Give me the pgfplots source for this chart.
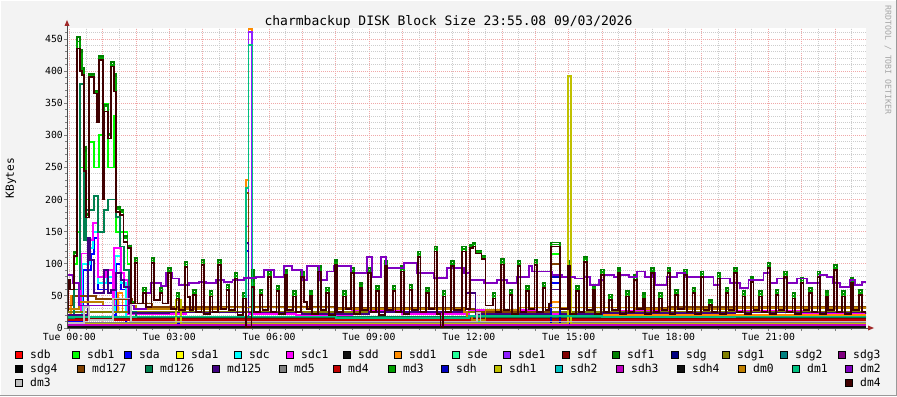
\documentclass[border=0pt]{standalone}
\usepackage{fontspec}
\setmainfont{DejaVu Sans Mono}
\usepackage{pgfplots}
\usepackage{pgfplotstable}
\pgfplotsset{compat=1.18}
\definecolor{cbg}{HTML}{F3F3F3}
\definecolor{cmgrid}{HTML}{F0A8A8}
\definecolor{cgrid}{HTML}{CDCDCD}
\definecolor{carrow}{HTML}{A02828}
\definecolor{csdb}{HTML}{FF0000}
\definecolor{csdbi}{HTML}{00FF00}
\definecolor{csda}{HTML}{0000FF}
\definecolor{csdai}{HTML}{FFFF00}
\definecolor{csdc}{HTML}{00FFFF}
\definecolor{csdci}{HTML}{FF00FF}
\definecolor{csdd}{HTML}{111111}
\definecolor{csddi}{HTML}{FF8C00}
\definecolor{csde}{HTML}{22FF99}
\definecolor{csdei}{HTML}{8F1FFF}
\definecolor{csdf}{HTML}{800000}
\definecolor{csdfi}{HTML}{008000}
\definecolor{csdg}{HTML}{000080}
\definecolor{csdgi}{HTML}{808000}
\definecolor{csdgii}{HTML}{008080}
\definecolor{csdgiii}{HTML}{800080}
\definecolor{csdgiv}{HTML}{000000}
\definecolor{cmdA}{HTML}{804000}
\definecolor{cmdB}{HTML}{008050}
\definecolor{cmdC}{HTML}{400080}
\definecolor{cmdv}{HTML}{808080}
\definecolor{cmdiv}{HTML}{C00000}
\definecolor{cmdiii}{HTML}{00A000}
\definecolor{csdh}{HTML}{0000C0}
\definecolor{csdhi}{HTML}{C0C000}
\definecolor{csdhii}{HTML}{00C0C0}
\definecolor{csdhiii}{HTML}{C000C0}
\definecolor{csdhiv}{HTML}{101010}
\definecolor{cdmo}{HTML}{C08000}
\definecolor{cdmi}{HTML}{00C080}
\definecolor{cdmii}{HTML}{8000C0}
\definecolor{cdmiii}{HTML}{C0C0C0}
\definecolor{cdmiv}{HTML}{400000}

\pgfplotstableread[row sep=\\]{
t dm4 md3 sdf1\\
-0.07 28 28 28\\ -0.04 75 75 75\\ 0.03 60 60 60\\ 0.15 112 116 118\\
0.23 435 446 453\\ 0.32 400 426 433\\ 0.37 394 400 405\\ 0.43 245 272 282\\
0.50 172 175 178\\ 0.60 391 393 396\\ 0.73 365 367 369\\ 0.83 321 324 326\\
0.90 417 420 423\\ 1.00 200 205 210\\ 1.05 337 345 348\\ 1.17 295 300 302\\
1.25 407 410 414\\ 1.33 368 390 396\\ 1.40 181 185 188\\ 1.53 176 180 184\\
1.63 134 140 143\\ 1.75 124 126 128\\ 1.85 38 40 40\\
1.97 101 105 109\\ 2.05 38 38 38\\ 2.22 55 59 63\\ 2.30 33 33 33\\
2.47 101 105 109\\ 2.55 44 44 44\\ 2.72 54 58 62\\ 2.80 38 38 38\\
2.97 85 89 93\\ 3.05 30 30 30\\ 3.22 46 50 54\\ 3.30 28 28 28\\
3.47 95 99 103\\ 3.55 48 48 48\\ 3.63 28 28 28\\ 3.72 51 55 59\\ 3.80 25 25 25\\
3.97 98 102 106\\ 4.05 22 22 22\\ 4.22 49 53 57\\ 4.30 25 25 25\\
4.47 98 102 106\\ 4.55 30 30 30\\ 4.72 59 63 67\\ 4.80 28 28 28\\
4.97 77 81 85\\ 5.05 20 20 20\\ 5.22 46 50 54\\ 5.30 2 2 2\\
5.47 64 70 90\\ 5.55 25 25 25\\ 5.72 51 55 59\\ 5.80 28 28 28\\
5.97 80 84 88\\ 6.05 25 25 25\\ 6.22 57 61 65\\ 6.30 22 22 22\\
6.47 82 86 90\\ 6.55 28 28 28\\ 6.72 49 53 57\\ 6.80 25 25 25\\
6.97 80 84 88\\ 7.05 40 40 40\\ 7.13 30 30 30\\ 7.22 50 54 58\\ 7.30 22 22 22\\
7.47 88 92 96\\ 7.55 28 28 28\\ 7.72 55 59 63\\ 7.80 20 20 20\\
7.97 98 102 106\\ 8.05 25 25 25\\ 8.22 49 53 57\\ 8.30 30 30 30\\
8.47 85 89 93\\ 8.55 22 22 22\\ 8.72 62 66 70\\ 8.80 28 28 28\\
8.97 85 89 93\\ 9.05 25 25 25\\ 9.22 57 61 65\\ 9.30 20 20 20\\
9.47 96 100 104\\ 9.55 28 28 28\\ 9.72 57 61 65\\ 9.80 25 25 25\\
9.97 88 92 96\\ 10.05 22 22 22\\ 10.22 59 63 67\\ 10.30 28 28 28\\
10.47 111 115 119\\ 10.55 25 25 25\\ 10.72 54 58 62\\ 10.80 30 30 30\\
10.97 119 123 127\\ 11.05 22 22 22\\ 11.15 0 0 0\\ 11.22 49 53 57\\ 11.30 25 25 25\\
11.47 96 100 104\\ 11.55 28 28 28\\ 11.80 119 123 127\\ 11.92 30 30 30\\
12.03 124 128 130\\ 12.12 127 130 132\\ 12.20 116 118 120\\ 12.38 108 110 112\\
12.50 35 35 35\\ 12.72 46 50 54\\ 12.80 25 25 25\\
12.97 99 103 107\\ 13.05 28 28 28\\ 13.22 51 55 59\\ 13.30 22 22 22\\
13.47 96 100 104\\ 13.55 25 25 25\\ 13.72 57 61 65\\ 13.80 30 30 30\\
13.97 98 102 106\\ 14.05 25 25 25\\ 14.22 62 66 70\\ 14.30 28 28 28\\
14.40 38 38 38\\ 14.47 127 130 133\\ 14.75 30 30 30\\
14.97 96 100 104\\ 15.05 22 22 22\\ 15.22 57 61 65\\ 15.30 25 25 25\\
15.47 103 107 111\\ 15.55 28 28 28\\ 15.72 59 63 67\\ 15.80 22 22 22\\
15.97 83 87 91\\ 16.05 25 25 25\\ 16.22 44 48 52\\ 16.30 28 28 28\\
16.47 85 89 93\\ 16.55 22 22 22\\ 16.72 49 53 57\\ 16.80 25 25 25\\
16.97 75 79 83\\ 17.05 30 30 30\\ 17.22 46 50 54\\ 17.30 22 22 22\\
17.47 85 89 93\\ 17.55 25 25 25\\ 17.72 46 50 54\\ 17.80 28 28 28\\
17.97 85 89 93\\ 18.05 22 22 22\\ 18.20 51 55 59\\ 18.28 30 30 30\\
18.47 83 87 91\\ 18.55 25 25 25\\ 18.72 54 58 62\\ 18.80 22 22 22\\
18.97 80 84 88\\ 19.05 28 28 28\\ 19.22 36 40 44\\ 19.30 25 25 25\\
19.47 77 81 85\\ 19.55 22 22 22\\ 19.72 54 58 62\\ 19.80 28 28 28\\
19.97 85 89 93\\ 20.05 25 25 25\\ 20.22 49 53 57\\ 20.30 22 22 22\\
20.47 72 76 80\\ 20.55 28 28 28\\ 20.72 49 53 57\\ 20.80 25 25 25\\
20.97 93 97 101\\ 21.05 22 22 22\\ 21.22 51 55 59\\ 21.30 28 28 28\\
21.47 80 84 88\\ 21.55 25 25 25\\ 21.72 46 50 54\\ 21.80 22 22 22\\
21.97 70 74 78\\ 22.05 28 28 28\\ 22.22 54 58 62\\ 22.30 25 25 25\\
22.47 80 84 88\\ 22.55 22 22 22\\ 22.72 49 53 57\\ 22.80 28 28 28\\
22.97 90 94 98\\ 23.05 25 25 25\\ 23.22 49 53 57\\ 23.30 22 22 22\\
23.47 70 74 78\\ 23.55 28 28 28\\ 23.72 51 55 59\\ 23.80 25 25 25\\
23.93 25 25 25\\
}\maintab

\pgfplotstableread[row sep=\\]{
t dm2 sde1\\
-0.07 83 83\\ 0.12 70 70\\ 0.28 35 35\\ 1.95 30 30\\ 2.30 55 55\\ 2.45 70 70\\
2.75 65 65\\ 2.90 85 85\\ 3.10 77 77\\ 3.30 67 67\\ 3.60 70 70\\ 3.90 72 72\\
4.10 70 70\\ 4.40 75 75\\ 4.65 72 72\\ 4.90 75 75\\ 5.25 78 78\\ 5.38 78 461\\
5.48 78 78\\ 5.60 80 80\\ 5.85 90 90\\ 6.15 80 80\\ 6.45 96 96\\ 6.70 90 90\\
7.00 75 75\\ 7.15 96 96\\ 7.50 75 75\\ 7.75 88 88\\ 7.95 96 96\\ 8.45 85 85\\
8.95 111 111\\ 9.10 80 80\\ 9.35 111 111\\ 9.50 93 93\\ 10.05 101 101\\
10.45 85 85\\ 10.95 78 78\\ 11.35 93 93\\ 11.85 85 85\\ 12.05 75 75\\
12.45 70 70\\ 12.85 75 75\\ 13.15 70 70\\ 13.45 80 80\\ 13.80 96 96\\
13.90 88 88\\ 14.50 82 82\\ 14.80 80 80\\ 15.20 77 77\\ 15.45 80 80\\
15.65 67 67\\ 15.90 75 75\\ 16.05 82 82\\ 16.35 80 80\\ 16.55 82 82\\
16.80 80 80\\ 17.05 88 88\\ 17.30 80 80\\ 17.50 85 85\\ 17.60 67 67\\
17.95 80 80\\ 18.25 85 85\\ 18.50 80 80\\ 19.35 67 67\\ 19.55 77 77\\
19.85 70 70\\ 20.15 62 62\\ 20.40 75 75\\ 20.85 85 85\\ 21.05 70 70\\
21.25 77 77\\ 21.55 70 70\\ 21.85 77 77\\ 22.15 70 70\\ 22.55 82 82\\
22.75 80 80\\ 22.95 70 70\\ 23.15 64 64\\ 23.45 75 75\\ 23.60 67 67\\
23.80 72 72\\ 23.93 72 72\\
}\purtab

\begin{document}
\begin{tikzpicture}[x=1bp,y=1bp]
\fill[cbg] (0,0) rectangle (897,396);
\draw[white, line width=1bp] (0.5,0.5) -- (0.5,395.5) -- (896.5,395.5);
\draw[black!40, line width=1bp] (0.5,0.5) -- (896.5,0.5) -- (896.5,395.5);
\begin{axis}[
  at={(67bp,68bp)}, anchor=south west, scale only axis,
  width=799bp, height=300bp,
  xmin=-0.07, xmax=23.93, ymin=0, ymax=467,
  axis line style={draw=none},
  axis background/.style={fill=white},
  tick pos=left, tick align=outside,
  major tick length=3bp, minor tick length=2bp,
  tick style={draw=black!50, line width=0.8bp},
  grid=both,
  major grid style={draw=cmgrid, line width=0.8bp, dash pattern=on 1bp off 1bp},
  minor grid style={draw=cgrid, line width=0.8bp, dash pattern=on 1bp off 1bp},
  xtick={0,1,...,23},
  xticklabels={Tue 00:00,,,Tue 03:00,,,Tue 06:00,,,Tue 09:00,,,Tue 12:00,,,Tue 15:00,,,Tue 18:00,,,Tue 21:00,,},
  minor xtick={0.5,1.5,...,23.5},
  ytick={0,50,...,450},
  minor ytick={10,20,30,40,60,70,80,90,110,120,130,140,160,170,180,190,210,220,230,240,260,270,280,290,310,320,330,340,360,370,380,390,410,420,430,440,460},
  /pgf/number format/assume math mode=true,
  ticklabel style={font=\fontsize{9.8bp}{10bp}\selectfont, inner sep=0pt},
  yticklabel style={anchor=east, xshift=-1bp},
  xticklabel style={anchor=north, yshift=-2bp},
  no markers,
  every axis plot/.append style={line width=1.8bp, const plot},
]
\addplot[draw=csdb] coordinates {(-0.07,12)(3,14)(8,11)(12,15)(17,12)(23.93,12)};
\addplot[draw=csdbi] coordinates {(-0.07,18)(0.15,100)(0.23,150)(0.32,250)(0.43,200)(0.60,290)(0.73,250)(0.90,300)(1.05,349)(1.17,250)(1.33,330)(1.40,150)(1.75,100)(1.85,16)(14.47,115)(14.75,16)(23.93,16)};
\addplot[draw=csda] coordinates {(-0.07,10)(0.40,90)(0.64,115)(0.74,140)(0.85,60)(1.15,70)(1.30,20)(1.40,100)(1.55,60)(1.70,7)(5.30,120)(5.38,7)(14.47,70)(14.75,7)(23.93,7)};
\addplot[draw=csdai] coordinates {(-0.07,3)(23.93,3)};
\addplot[draw=csdc] coordinates {(-0.07,15)(0.38,100)(0.62,125)(0.72,150)(0.85,70)(1.12,80)(1.30,25)(1.38,112)(1.55,70)(1.70,14)(4.0,16)(8.0,13)(12.0,15)(16.0,13)(20.0,15)(23.93,14)};
\addplot[draw=csdci] coordinates {(-0.07,25)(0.35,116)(0.60,137)(0.70,163)(0.85,80)(1.10,90)(1.30,35)(1.35,124)(1.55,85)(1.65,75)(1.75,22)(3.5,25)(5.30,158)(5.38,22)(6.8,20)(8.5,26)(10,22)(12,28)(14,22)(16.5,27)(18,22)(20,26)(22,23)(23.93,24)};
\addplot[draw=csdd] coordinates {(-0.07,1)(23.93,1)};
\addplot[draw=csddi] coordinates {(-0.07,20)(0.05,50)(0.15,25)(1.45,54)(1.60,25)(5.30,230)(5.38,466)(5.48,25)(14.47,40)(14.75,20)(23.93,20)};
\addplot[draw=csde] coordinates {(-0.07,12)(6,13)(12,11)(18,12)(23.93,12)};
\addplot[draw=csdei] table[x=t, y=sde1] {\purtab};
\addplot[draw=csdf] coordinates {(-0.07,14)(23.93,14)};
\addplot[draw=csdfi] table[x=t, y=sdf1] {\maintab};
\addplot[draw=csdg] coordinates {(-0.07,5)(23.93,5)};
\addplot[draw=csdgi] coordinates {(-0.07,25)(23.93,25)};
\addplot[draw=csdgii] coordinates {(-0.07,2)(23.93,2)};
\addplot[draw=csdgiii] coordinates {(-0.07,3)(23.93,3)};
\addplot[draw=csdgiv] coordinates {(-0.07,1)(23.93,1)};
\addplot[draw=cmdA] coordinates {(-0.07,35)(0.10,50)(0.80,45)(1.90,38)(2.5,33)(5.30,210)(5.38,33)(8,32)(11.9,30)(12.2,25)(14.47,100)(14.75,32)(18,33)(23.93,32)};
\addplot[draw=cmdB] coordinates {(-0.07,15)(0.15,60)(0.32,380)(0.43,137)(0.50,184)(0.75,205)(0.85,150)(1.05,184)(1.17,200)(1.40,173)(1.53,127)(1.65,90)(1.80,25)(2.00,17)(23.93,17)};
\addplot[draw=cmdC] coordinates {(-0.07,20)(0.55,140)(0.62,106)(0.75,54)(1.05,90)(1.15,54)(1.25,59)(1.40,85)(1.55,75)(1.65,64)(1.80,23)(3,24)(5.30,132)(5.38,24)(7,22)(9,25)(11.90,54)(12.20,22)(14.47,60)(14.75,22)(16,23)(20,24)(23.93,23)};
\addplot[draw=cmdv] coordinates {(-0.07,8)(23.93,8)};
\addplot[draw=cmdiv] coordinates {(-0.07,13)(23.93,13)};
\addplot[draw=cmdiii] table[x=t, y=md3] {\maintab};
\addplot[draw=csdh] coordinates {(-0.07,6)(14.47,80)(14.75,6)(23.93,6)};
\addplot[draw=csdhi] coordinates {(-0.07,6)(3.20,44)(3.35,6)(14.98,392)(15.07,6)(23.93,6)};
\addplot[draw=csdhii] coordinates {(-0.07,4)(23.93,4)};
\addplot[draw=csdhiii] coordinates {(-0.07,5)(23.93,5)};
\addplot[draw=csdhiv] coordinates {(-0.07,1)(23.93,1)};
\addplot[draw=cdmo] coordinates {(-0.07,30)(0.3,40)(1.0,35)(2.0,30)(4.5,32)(8,30)(11.85,25)(11.95,18)(12.1,13)(12.5,28)(13.5,32)(17,30)(20,31)(23.93,30)};
\addplot[draw=cdmi] coordinates {(-0.07,17)(2,18)(5.30,218)(5.38,440)(5.50,18)(8,16)(12,19)(16,17)(20,18)(23.93,17)};
\addplot[draw=cdmii] table[x=t, y=dm2] {\purtab};
\addplot[draw=cdmiii] coordinates {(-0.07,8)(0.45,33)(0.60,12)(1.30,46)(1.85,10)(12.25,23)(12.35,10)(23.93,10)};
\addplot[draw=cdmiv] table[x=t, y=dm4] {\maintab};
\end{axis}
% axis lines and arrows
\draw[black!70, line width=1bp] (67,68) -- (67,371);
\fill[carrow] (64.5,370) -- (69.5,370) -- (67,376) -- cycle;
\draw[black!70, line width=1bp] (67,68) -- (869,68);
\fill[carrow] (868,65.5) -- (868,70.5) -- (874,68) -- cycle;
% title, unit, watermark
\node[anchor=base, inner sep=0pt, font=\fontsize{13bp}{14bp}\selectfont] at (448.5,371) {charmbackup DISK Block Size 23:55.08 09/03/2026};
\node[rotate=90, inner sep=0pt, font=\fontsize{11.2bp}{12bp}\selectfont] at (11,218) {KBytes};
\node[rotate=-90, inner sep=0pt, text=black!35, font=\fontsize{8.2bp}{9bp}\selectfont] at (888,336) {RRDTOOL / TOBI OETIKER};
% legend
\foreach \x/\y/\c/\n in {
 15/37.8/csdb/sdb, 72/37.8/csdbi/sdb1, 124/37.8/csda/sda, 176/37.8/csdai/sda1,
 234/37.8/csdc/sdc, 286/37.8/csdci/sdc1, 343/37.8/csdd/sdd, 394/37.8/csddi/sdd1,
 452/37.8/csde/sde, 503/37.8/csdei/sde1, 562/37.8/csdf/sdf, 612/37.8/csdfi/sdf1,
 671/37.8/csdg/sdg, 722/37.8/csdgi/sdg1, 780/37.8/csdgii/sdg2, 838/37.8/csdgiii/sdg3,
 15/23.5/csdgiv/sdg4, 77/23.5/cmdA/md127, 145/23.5/cmdB/md126, 212/23.5/cmdC/md125,
 279/23.5/cmdv/md5, 333/23.5/cmdiv/md4, 388/23.5/cmdiii/md3, 441/23.5/csdh/sdh,
 494/23.5/csdhi/sdh1, 555/23.5/csdhii/sdh2, 616/23.5/csdhiii/sdh3, 677/23.5/csdhiv/sdh4,
 738/23.5/cdmo/dm0, 792/23.5/cdmi/dm1, 845/23.5/cdmii/dm2,
 15/9.2/cdmiii/dm3, 845/9.2/cdmiv/dm4}{
  \draw[fill=\c, draw=black, line width=0.8bp] (\x,\y) rectangle ++(7.3,7.3);
  \node[anchor=base west, inner sep=0pt, font=\fontsize{11.3bp}{12bp}\selectfont] at (\x+15,\y) {\n};
}
\end{tikzpicture}
\end{document}
